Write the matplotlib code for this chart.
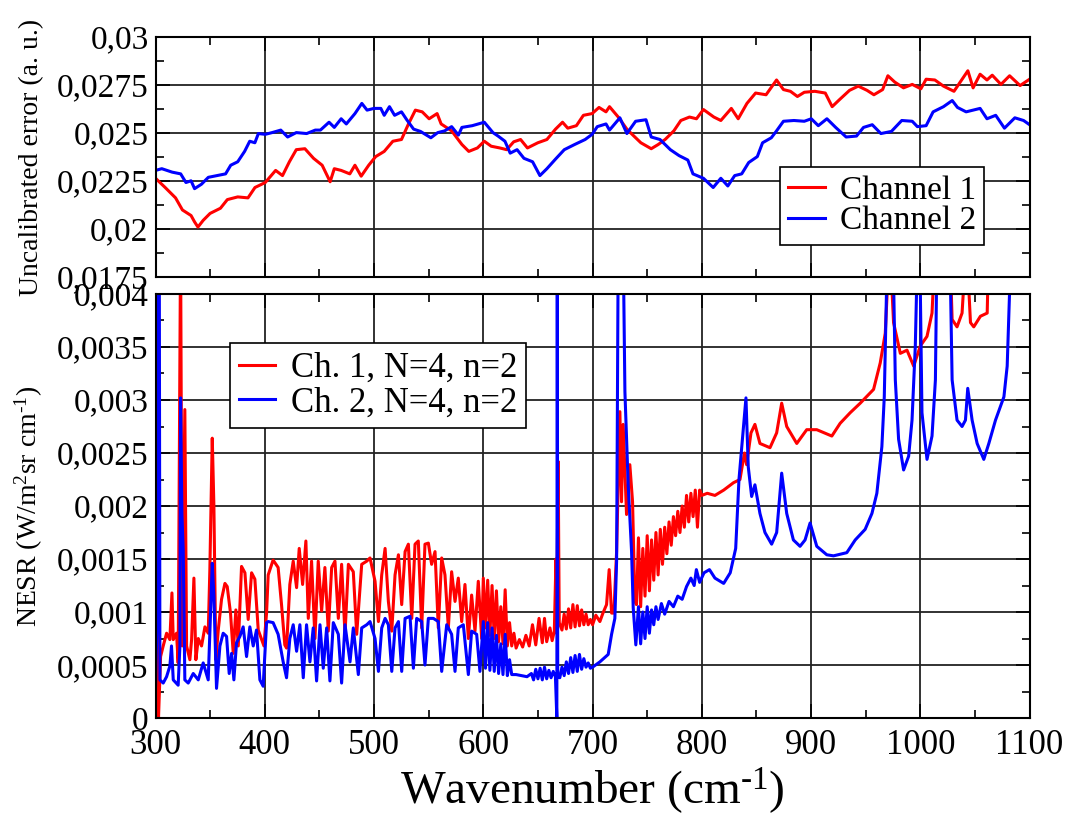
import matplotlib
matplotlib.use('Agg')
import matplotlib.pyplot as plt
from matplotlib.ticker import MultipleLocator, FuncFormatter

plt.rcParams['font.family'] = ['Liberation Serif', 'DejaVu Serif']
plt.rcParams['mathtext.fontset'] = 'custom'
plt.rcParams['mathtext.rm'] = 'Liberation Serif'
plt.rcParams['mathtext.it'] = 'Liberation Serif:italic'

RED = '#ff0000'
BLUE = '#0000ff'

# ── Top panel: uncalibrated error ─────────────────────────────────────────────
err_ch1_wn = [300.0, 308.8, 318.3, 324.6, 332.5, 335.7, 338.8, 343.6, 349.9, 359.4,
              365.7, 375.2, 384.6, 391.0, 400.4, 409.9, 416.2, 422.5, 428.8, 436.7,
              444.6, 452.5, 459.8, 463.6, 469.9, 477.8, 482.5, 488.2, 495.1, 501.5,
              509.3, 517.2, 525.1, 531.5, 537.8, 544.1, 550.4, 557.7, 561.4, 571.0,
              580.4, 586.7, 594.6, 600.9, 607.2, 615.1, 621.4, 627.8, 634.1, 640.4,
              649.9, 658.2, 666.1, 672.5, 677.3, 685.2, 691.6, 699.6, 705.9, 712.3,
              715.5, 723.5, 731.4, 737.8, 744.2, 753.7, 760.1, 766.4, 774.4, 780.8,
              788.7, 795.1, 801.5, 811.0, 817.4, 827.0, 833.3, 841.3, 849.2, 858.8,
              868.4, 874.7, 881.1, 887.5, 893.8, 903.4, 913.0, 919.3, 925.7, 935.2,
              943.2, 951.2, 957.5, 965.5, 970.3, 976.6, 984.6, 992.6, 1000.5, 1005.3,
              1013.3, 1021.2, 1030.8, 1037.2, 1043.5, 1048.3, 1054.7, 1061.0, 1065.8, 1073.8,
              1081.7, 1091.3, 1100.0]
err_ch1 = [0.02264, 0.02216, 0.02162, 0.02099, 0.0207, 0.02037, 0.0201, 0.02045, 0.02081, 0.02108,
           0.02153, 0.02167, 0.02162, 0.02216, 0.02242, 0.02305, 0.02278, 0.0235, 0.02413, 0.02418,
           0.02368, 0.02332, 0.02246, 0.02314, 0.02305, 0.02287, 0.02332, 0.02275, 0.02332, 0.02377,
           0.02404, 0.02457, 0.02466, 0.02547, 0.02619, 0.0261, 0.02574, 0.02601, 0.02547, 0.02511,
           0.0244, 0.02404, 0.02422, 0.02457, 0.02431, 0.02422, 0.02413, 0.02454, 0.02466, 0.02422,
           0.02449, 0.02466, 0.0252, 0.02556, 0.02525, 0.02538, 0.02592, 0.02601, 0.02633, 0.0261,
           0.02637, 0.02583, 0.0252, 0.02484, 0.02449, 0.02418, 0.0244, 0.02466, 0.02511, 0.02565,
           0.02583, 0.02574, 0.02622, 0.02583, 0.02565, 0.02628, 0.02574, 0.02654, 0.02708, 0.02699,
           0.02776, 0.02726, 0.02717, 0.0269, 0.02712, 0.02717, 0.02708, 0.02637, 0.02672, 0.02722,
           0.02744, 0.02722, 0.02699, 0.02726, 0.02798, 0.02765, 0.02735, 0.02753, 0.0273, 0.0278,
           0.02776, 0.02744, 0.02717, 0.02771, 0.02824, 0.02735, 0.02806, 0.02776, 0.02801, 0.02753,
           0.02798, 0.02747, 0.0278]

err_ch2_wn = [300.0, 305.7, 315.2, 323.0, 327.8, 332.5, 335.7, 342.0, 348.3, 356.2,
              364.1, 368.8, 375.2, 381.5, 386.2, 390.9, 394.1, 400.4, 406.7, 414.6,
              420.9, 428.8, 438.3, 446.2, 450.9, 458.8, 463.6, 469.9, 474.6, 482.5,
              488.8, 493.6, 499.9, 506.2, 509.3, 514.1, 518.8, 525.1, 529.9, 536.2,
              542.5, 552.0, 558.3, 564.6, 571.0, 577.2, 580.4, 589.9, 600.9, 608.8,
              613.5, 619.8, 624.6, 630.9, 637.2, 645.1, 651.8, 658.2, 666.1, 674.1,
              683.6, 693.2, 699.6, 704.3, 712.3, 715.5, 725.0, 731.4, 739.4, 748.9,
              753.7, 761.7, 771.2, 779.2, 787.2, 791.9, 801.5, 810.4, 817.4, 823.8,
              830.1, 836.5, 842.9, 850.8, 855.6, 863.6, 868.4, 874.7, 884.3, 893.8,
              900.2, 906.6, 914.5, 922.5, 932.1, 941.6, 948.0, 956.0, 963.9, 973.5,
              983.0, 992.6, 997.3, 1005.3, 1011.7, 1021.2, 1029.2, 1034.0, 1041.9, 1054.7,
              1061.0, 1069.0, 1077.0, 1086.5, 1094.5, 1100.0]
err_ch2 = [0.02305, 0.02314, 0.02296, 0.02287, 0.02242, 0.02251, 0.0221, 0.02233, 0.02269, 0.02278,
           0.02287, 0.02332, 0.0235, 0.02404, 0.02457, 0.02449, 0.02497, 0.02493, 0.02502, 0.02515,
           0.02479, 0.02502, 0.02497, 0.02515, 0.02515, 0.02556, 0.02529, 0.02574, 0.02547, 0.02601,
           0.02654, 0.02619, 0.02628, 0.02628, 0.02592, 0.02637, 0.02592, 0.0261, 0.02569, 0.0252,
           0.02508, 0.02475, 0.02502, 0.02511, 0.02533, 0.02489, 0.02529, 0.02538, 0.02556, 0.02502,
           0.02484, 0.02457, 0.02395, 0.02413, 0.02368, 0.0235, 0.02278, 0.02314, 0.02364, 0.02413,
           0.0244, 0.02466, 0.02493, 0.02533, 0.02547, 0.02515, 0.02579, 0.02497, 0.02561, 0.02569,
           0.02479, 0.02466, 0.02413, 0.02382, 0.02359, 0.02287, 0.02264, 0.02216, 0.02264, 0.02224,
           0.02278, 0.02287, 0.02346, 0.02377, 0.02449, 0.02475, 0.02511, 0.02561, 0.02565, 0.02561,
           0.02574, 0.02538, 0.02574, 0.02529, 0.02479, 0.02484, 0.02529, 0.02543, 0.02497, 0.02508,
           0.02565, 0.02561, 0.02533, 0.02538, 0.0261, 0.02637, 0.02669, 0.02633, 0.0261, 0.02628,
           0.02574, 0.02592, 0.02525, 0.02579, 0.02565, 0.02543]

# ── Bottom panel: NESR (values above 0.004 run off the top) ──────────────────
nesr_ch1_wn = [300.0, 300.9, 301.5, 302.7, 304.6, 307.0, 310.1, 313.1, 315.0, 316.2,
               319.2, 320.7, 322.9, 324.4, 326.8, 328.4, 331.4, 333.0, 335.1, 336.9,
               339.1, 342.1, 345.2, 348.2, 349.7, 351.9, 353.4, 355.2, 357.4, 360.4,
               363.5, 365.6, 368.6, 371.1, 373.5, 375.7, 378.7, 381.8, 384.8, 387.9,
               390.9, 394.0, 399.2, 401.6, 403.1, 407.6, 412.2, 415.3, 418.3, 419.9,
               422.9, 426.0, 429.1, 431.5, 434.6, 437.6, 439.8, 442.8, 445.9, 448.9,
               452.0, 455.0, 458.1, 461.2, 464.2, 467.3, 470.3, 473.4, 476.5, 481.0,
               484.1, 488.7, 493.3, 496.3, 500.9, 504.0, 507.0, 510.1, 513.1, 516.2,
               519.2, 522.3, 525.3, 528.4, 531.4, 534.5, 537.5, 540.5, 543.6, 546.6,
               549.7, 552.7, 555.8, 558.8, 561.9, 564.9, 568.0, 571.0, 574.1, 577.1,
               580.2, 583.2, 586.3, 589.3, 592.4, 595.4, 598.5, 600.0, 602.0, 604.0,
               606.0, 608.0, 610.0, 612.0, 614.0, 616.0, 618.0, 620.0, 622.0, 624.0,
               626.0, 628.0, 630.0, 633.0, 636.0, 639.0, 642.0, 645.0, 648.0, 651.0,
               654.0, 656.0, 658.0, 661.0, 663.0, 665.0, 666.5, 667.0, 668.5, 669.5,
               672.0, 674.0, 676.0, 678.0, 680.0, 682.0, 684.0, 686.0, 688.0, 690.0,
               692.0, 694.0, 696.0, 698.0, 700.0, 703.0, 706.7, 709.5, 712.8, 715.2,
               717.4, 719.5, 722.0, 725.0, 726.5, 728.0, 731.1, 734.1, 736.6, 738.7,
               740.2, 742.0, 744.0, 746.0, 748.0, 750.0, 752.0, 754.0, 756.0, 758.0,
               760.0, 762.0, 764.0, 766.0, 768.0, 770.0, 772.0, 774.0, 776.0, 778.0,
               780.0, 782.0, 784.0, 786.0, 788.0, 790.0, 792.0, 794.0, 796.0, 798.0,
               800.0, 805.0, 812.0, 820.0, 829.0, 834.9, 839.0, 841.0, 845.0, 848.6,
               853.2, 862.4, 868.5, 873.1, 877.7, 886.9, 896.0, 905.2, 919.0, 926.6,
               935.8, 945.0, 957.2, 963.3, 967.9, 971.9, 975.5, 981.7, 987.8, 993.9,
               1000.0, 1006.1, 1010.7, 1013.8, 1026.9, 1029.1, 1033.6, 1038.2, 1042.2, 1045.9,
               1048.9, 1055.0, 1061.2, 1062.7, 1100.0]
nesr_ch1 = [0.00052, 0.00036, 0.00171, 0.0, 0.00058, 0.00068, 0.0008, 0.00074, 0.00118, 0.00074,
            0.0008, 0.00052, 0.0045, 0.00068, 0.00291, 0.00068, 0.00055, 0.00074, 0.00132, 0.00055,
            0.00075, 0.00068, 0.00086, 0.0008, 0.0014, 0.00264, 0.002, 0.00055, 0.00083, 0.00112,
            0.00127, 0.00124, 0.00099, 0.00061, 0.00102, 0.00068, 0.00143, 0.00137, 0.00093, 0.00137,
            0.00131, 0.00083, 0.00068, 0.00099, 0.00135, 0.00149, 0.00142, 0.00107, 0.00069, 0.00066,
            0.00126, 0.00148, 0.00123, 0.0016, 0.00126, 0.00167, 0.00094, 0.00148, 0.00075, 0.00148,
            0.00101, 0.00142, 0.00082, 0.00142, 0.00148, 0.00094, 0.00145, 0.00079, 0.00145, 0.00138,
            0.00079, 0.00145, 0.00148, 0.00151, 0.00129, 0.00091, 0.00135, 0.0016, 0.0011, 0.00082,
            0.00135, 0.00154, 0.00107, 0.00157, 0.00164, 0.00094, 0.00164, 0.00167, 0.00085, 0.00164,
            0.00165, 0.00145, 0.00157, 0.00085, 0.00151, 0.00135, 0.00085, 0.00138, 0.0011, 0.00132,
            0.00091, 0.00126, 0.00075, 0.00116, 0.00082, 0.00129, 0.00075, 0.00132, 0.00085, 0.0013,
            0.00078, 0.00125, 0.00075, 0.0012, 0.00072, 0.00105, 0.0007, 0.00121, 0.00068, 0.0009,
            0.00068, 0.0008, 0.00066, 0.00074, 0.00067, 0.00078, 0.00068, 0.00088, 0.00069, 0.00094,
            0.00071, 0.00094, 0.00072, 0.00085, 0.00073, 0.00082, 0.0015, 0.0008, 0.00242, 0.0009,
            0.00083, 0.00098, 0.00084, 0.00103, 0.00085, 0.00107, 0.00086, 0.00106, 0.00087, 0.00102,
            0.00088, 0.00098, 0.00088, 0.00093, 0.00088, 0.00097, 0.00091, 0.00099, 0.00107, 0.0014,
            0.00099, 0.00099, 0.00157, 0.00289, 0.00204, 0.00277, 0.00192, 0.00239, 0.00204, 0.0011,
            0.00107, 0.0017, 0.00105, 0.0016, 0.00115, 0.00172, 0.0012, 0.00168, 0.0013, 0.00175,
            0.00135, 0.00178, 0.00145, 0.0018, 0.00155, 0.00185, 0.00163, 0.0019, 0.00172, 0.00195,
            0.00175, 0.002, 0.0018, 0.0021, 0.00185, 0.00212, 0.0019, 0.00215, 0.0018, 0.00215,
            0.0021, 0.00212, 0.0021, 0.00215, 0.00222, 0.00225, 0.0025, 0.00239, 0.00269, 0.00277,
            0.00259, 0.00255, 0.00269, 0.00297, 0.00275, 0.00259, 0.00272, 0.00272, 0.00266, 0.00278,
            0.00288, 0.00297, 0.0031, 0.00335, 0.00363, 0.0045, 0.00373, 0.00344, 0.00347, 0.00332,
            0.00351, 0.0036, 0.00382, 0.0045, 0.0045, 0.00376, 0.00369, 0.00382, 0.0045, 0.00373,
            0.00369, 0.00379, 0.00382, 0.0045, 0.0045]

nesr_ch2_wn = [300.0, 301.5, 302.1, 303.4, 304.0, 307.0, 310.1, 313.1, 314.6, 316.2,
               320.7, 322.3, 322.9, 324.1, 325.3, 326.8, 329.9, 334.5, 339.1, 343.6,
               348.2, 350.3, 351.9, 353.4, 355.8, 358.9, 361.9, 365.0, 367.4, 369.6,
               371.7, 374.1, 377.2, 380.2, 383.3, 386.3, 389.4, 392.4, 395.5, 398.5,
               401.6, 403.1, 407.6, 412.2, 416.8, 419.9, 422.9, 426.0, 429.1, 432.1,
               435.2, 438.2, 441.3, 444.3, 447.4, 450.5, 453.5, 456.6, 459.6, 462.7,
               467.3, 470.3, 473.4, 478.0, 481.0, 485.6, 488.7, 493.3, 496.3, 500.9,
               504.0, 507.0, 510.1, 513.1, 516.2, 519.2, 522.3, 525.3, 528.4, 532.9,
               536.0, 539.0, 543.6, 546.6, 549.7, 554.3, 558.8, 561.9, 566.5, 571.0,
               574.1, 577.1, 581.7, 586.3, 589.3, 593.9, 596.9, 600.0, 602.0, 604.0,
               606.0, 608.0, 610.0, 612.0, 614.0, 616.0, 618.0, 620.0, 622.0, 624.0,
               626.0, 630.0, 635.0, 640.0, 644.0, 646.0, 648.0, 650.0, 652.0, 654.0,
               656.0, 658.0, 660.0, 662.0, 664.0, 666.0, 667.3, 667.7, 668.1, 670.0,
               672.0, 674.0, 676.0, 678.0, 680.0, 682.0, 684.0, 686.0, 688.0, 690.0,
               692.0, 694.0, 696.0, 698.0, 700.0, 706.7, 714.3, 717.4, 720.4, 722.0,
               723.5, 728.0, 729.6, 732.6, 735.7, 737.2, 739.6, 742.0, 744.0, 746.0,
               748.0, 750.0, 752.0, 754.0, 756.0, 758.0, 760.0, 763.0, 766.0, 770.0,
               774.0, 778.0, 782.0, 786.0, 790.0, 793.0, 795.0, 798.0, 802.0, 807.0,
               812.0, 820.0, 826.0, 831.0, 834.0, 840.4, 842.5, 845.6, 848.6, 853.2,
               857.8, 863.9, 868.5, 873.1, 877.7, 883.8, 889.9, 894.5, 899.1, 905.2,
               914.4, 920.5, 932.7, 940.4, 949.5, 955.7, 960.2, 964.8, 967.0, 970.0,
               974.9, 977.1, 980.1, 984.7, 989.3, 992.4, 995.4, 997.6, 999.4, 1001.5,
               1006.1, 1010.7, 1013.8, 1015.3, 1026.9, 1029.1, 1033.6, 1038.2, 1041.3, 1043.4,
               1047.4, 1052.0, 1058.1, 1062.7, 1068.8, 1076.5, 1079.5, 1083.2, 1100.0]
nesr_ch2 = [0.00031, 0.00099, 0.0045, 0.0045, 0.00036, 0.00033, 0.00039, 0.00049, 0.00068, 0.00036,
            0.00031, 0.00068, 0.00302, 0.00193, 0.00159, 0.00036, 0.00033, 0.00042, 0.00036, 0.00052,
            0.00036, 0.00099, 0.00146, 0.00115, 0.00028, 0.00068, 0.0008, 0.00077, 0.00042, 0.00061,
            0.00036, 0.00071, 0.00077, 0.00086, 0.00058, 0.00086, 0.00068, 0.00083, 0.00036, 0.0003,
            0.0009, 0.00091, 0.0009, 0.00079, 0.00053, 0.00038, 0.00075, 0.00088, 0.00063, 0.00088,
            0.00038, 0.00088, 0.00053, 0.00085, 0.00035, 0.00088, 0.00047, 0.00085, 0.00035, 0.0009,
            0.00079, 0.00033, 0.00088, 0.00053, 0.00085, 0.00041, 0.00085, 0.00088, 0.00091, 0.00075,
            0.00044, 0.00085, 0.00094, 0.00088, 0.00044, 0.00085, 0.00091, 0.00044, 0.00094, 0.00096,
            0.00047, 0.00094, 0.00091, 0.0005, 0.00094, 0.00094, 0.00091, 0.00044, 0.00088, 0.00079,
            0.00044, 0.00085, 0.00088, 0.00041, 0.00082, 0.00079, 0.00044, 0.00091, 0.00047, 0.0009,
            0.00045, 0.00085, 0.00044, 0.00078, 0.00042, 0.0007, 0.00041, 0.00079, 0.0004, 0.00055,
            0.00041, 0.00041, 0.0004, 0.00039, 0.00042, 0.00036, 0.00046, 0.00037, 0.00047, 0.00036,
            0.00048, 0.00037, 0.00045, 0.00038, 0.00044, 0.00039, 0.0, 0.0045, 0.0004, 0.00038,
            0.00048, 0.0004, 0.00053, 0.00042, 0.00057, 0.00043, 0.00059, 0.00044, 0.0006, 0.00046,
            0.00056, 0.00048, 0.00052, 0.00047, 0.00048, 0.00053, 0.0006, 0.00079, 0.00094, 0.00148,
            0.0045, 0.0045, 0.00308, 0.0022, 0.00157, 0.00104, 0.00069, 0.00105, 0.0007, 0.001,
            0.00075, 0.00105, 0.0008, 0.00102, 0.00088, 0.00105, 0.00093, 0.00108, 0.00098, 0.0011,
            0.00105, 0.00115, 0.00112, 0.00124, 0.00132, 0.00125, 0.0014, 0.00128, 0.00137, 0.0014,
            0.00132, 0.00127, 0.00137, 0.0016, 0.00225, 0.00302, 0.00237, 0.00209, 0.0022, 0.00193,
            0.00175, 0.00164, 0.00175, 0.00231, 0.00193, 0.00168, 0.00162, 0.00168, 0.00184, 0.00162,
            0.00154, 0.00153, 0.00156, 0.00168, 0.00178, 0.00193, 0.00212, 0.00256, 0.00303, 0.0045,
            0.0045, 0.00319, 0.00263, 0.00234, 0.00247, 0.00281, 0.00351, 0.0045, 0.0045, 0.00288,
            0.00244, 0.00266, 0.00319, 0.0045, 0.0045, 0.00319, 0.00281, 0.00275, 0.00281, 0.00311,
            0.00281, 0.00259, 0.00244, 0.00259, 0.00281, 0.00303, 0.00332, 0.0045, 0.0045]


def comma(v, pos):
    return f'{v:g}'.replace('.', ',')


def style_axis(ax, ymajor, yminor):
    ax.xaxis.set_major_locator(MultipleLocator(100))
    ax.xaxis.set_minor_locator(MultipleLocator(50))
    ax.yaxis.set_major_locator(MultipleLocator(ymajor))
    ax.yaxis.set_minor_locator(MultipleLocator(yminor))
    ax.yaxis.set_major_formatter(FuncFormatter(comma))
    ax.tick_params(which='both', direction='in', top=True, right=True,
                   labelsize=24, width=1.2, colors='black')
    ax.tick_params(which='major', length=10, pad=5)
    ax.tick_params(which='minor', length=6)
    ax.grid(True, which='major', color='#222222', linewidth=1.3)
    for spine in ax.spines.values():
        spine.set_linewidth(1.5)


fig = plt.figure(figsize=(10.84, 8.18), dpi=100)
ax_top = fig.add_axes([0.1435, 0.6614, 0.8063, 0.2934])
ax_bot = fig.add_axes([0.1435, 0.1222, 0.8063, 0.5184], sharex=ax_top)

# Top panel
ax_top.plot(err_ch1_wn, err_ch1, color=RED, lw=2.2, label='Channel 1')
ax_top.plot(err_ch2_wn, err_ch2, color=BLUE, lw=2.2, label='Channel 2')
ax_top.set_xlim(300, 1100)
ax_top.set_ylim(0.0175, 0.03)
style_axis(ax_top, 0.0025, 0.00125)
ax_top.tick_params(axis='x', labelbottom=False)
ax_top.set_ylabel('Uncalibrated error (a. u.)', fontsize=20)
ax_top.yaxis.set_label_coords(-0.127, 0.5)
leg = ax_top.legend(loc='upper left', bbox_to_anchor=(0.714, 0.458), borderaxespad=0,
                    fontsize=24, handlelength=1.1, handletextpad=0.45,
                    borderpad=0.25, labelspacing=0.0, fancybox=False,
                    edgecolor='black', framealpha=1)
leg.get_frame().set_linewidth(1.2)

# Bottom panel
ax_bot.plot(nesr_ch1_wn, nesr_ch1, color=RED, lw=2.2, label='Ch. 1, N=4, n=2')
ax_bot.plot(nesr_ch2_wn, nesr_ch2, color=BLUE, lw=2.2, label='Ch. 2, N=4, n=2')
ax_bot.set_ylim(0, 0.004)
style_axis(ax_bot, 0.0005, 0.00025)
ax_bot.tick_params(axis='x', pad=8, labelsize=25)
ax_bot.set_xlim(300, 1100)
ax_bot.set_ylabel(r'NESR (W/m$^2$sr cm$^{\text{-1}}$)', fontsize=20)
ax_bot.yaxis.set_label_coords(-0.127, 0.5)
ax_bot.set_xlabel(r'Wavenumber (cm$^{\text{-1}}$)', fontsize=34, labelpad=2)
leg2 = ax_bot.legend(loc='upper left', bbox_to_anchor=(0.085, 0.884), borderaxespad=0,
                     fontsize=25, handlelength=1.05, handletextpad=0.45,
                     borderpad=0.25, labelspacing=0.05, fancybox=False,
                     edgecolor='black', framealpha=1)
leg2.get_frame().set_linewidth(1.2)

fig.savefig('out.png', dpi=100, facecolor='white')
plt.close(fig)
